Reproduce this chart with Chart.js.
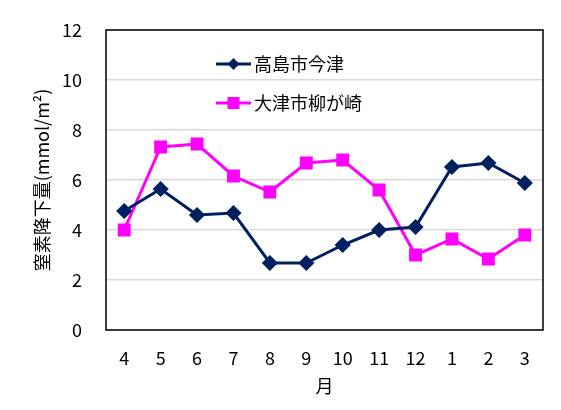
<!DOCTYPE html>
<html><head><meta charset="utf-8">
<script src="https://cdn.jsdelivr.net/npm/chart.js@4/dist/chart.umd.min.js"></script>
<style>html,body{margin:0;padding:0;background:#fff}#c{display:block}</style>
</head><body>
<canvas id="c" width="561" height="410"></canvas>
<script>
const months = ['4','5','6','7','8','9','10','11','12','1','2','3'];
const takashima = [4.76,5.64,4.6,4.68,2.68,2.68,3.4,4.0,4.12,6.52,6.68,5.88];
const otsu = [4.0,7.32,7.44,6.16,5.52,6.68,6.8,5.6,3.0,3.64,2.84,3.8];
const seriesNames = ['高島市今津','大津市柳が崎'];
const yTitle = '窒素降下量(mmol/m²)';
const xTitle = '月';

const FONT = "'Noto Sans CJK JP','Noto Sans',sans-serif";

const borderPlugin = {
  id:'border',
  afterDatasetsDraw(chart){
    const {ctx, chartArea:a} = chart;
    ctx.save();
    ctx.strokeStyle='#000'; ctx.lineWidth=1.5;
    ctx.strokeRect(a.left, a.top, a.right-a.left, a.bottom-a.top);
    ctx.restore();
  }
};
const legendPlugin = {
  id:'customLegend',
  afterDraw(chart){
    const ctx = chart.ctx;
    const items = [{y:64},{y:103}];
    chart.data.datasets.forEach((ds,i)=>{
      const y = items[i].y, x0=216, x1=251;
      ctx.save();
      ctx.strokeStyle=ds.borderColor; ctx.lineWidth=3;
      ctx.beginPath(); ctx.moveTo(x0,y); ctx.lineTo(x1,y); ctx.stroke();
      ctx.fillStyle=ds.borderColor;
      const cx=(x0+x1)/2;
      if(ds.pointStyle==='rectRot'){
        ctx.beginPath(); ctx.moveTo(cx,y-6); ctx.lineTo(cx+6,y); ctx.lineTo(cx,y+6); ctx.lineTo(cx-6,y); ctx.closePath(); ctx.fill();
      } else {
        ctx.fillRect(cx-6,y-6,12,12);
      }
      ctx.fillStyle='#000'; ctx.font='18px '+FONT; ctx.textBaseline='middle'; ctx.textAlign='left';
      ctx.fillText(ds.label, 254, y);
      ctx.restore();
    });
  }
};

new Chart(document.getElementById('c'), {
  type:'line',
  data:{
    labels: months,
    datasets:[
      {label:seriesNames[0], data:takashima, borderColor:'#002060', backgroundColor:'#002060', borderWidth:3, pointStyle:'rectRot', pointRadius:6, pointHoverRadius:6, tension:0},
      {label:seriesNames[1], data:otsu, borderColor:'#FF00FF', backgroundColor:'#FF00FF', borderWidth:3, pointStyle:'rect', pointRadius:7, pointHoverRadius:7, tension:0}
    ]
  },
  options:{
    responsive:false, animation:false,
    layout:{autoPadding:false, padding:{left:31,right:18,top:30,bottom:13}},
    plugins:{legend:{display:false}, tooltip:{enabled:false}},
    scales:{
      x:{
        offset:true,
        grid:{display:false, drawTicks:false},
        border:{display:false},
        ticks:{color:'#000', font:{family:FONT,size:18}, padding:17, maxRotation:0, autoSkip:false},
        title:{display:true, text:xTitle, color:'#000', font:{family:FONT,size:18}, padding:{top:0,bottom:0}},
        afterFit(s){ s.height = 67; s.paddingLeft = 0; s.paddingRight = 0; }
      },
      y:{
        min:0, max:12,
        ticks:{stepSize:2, color:'#000', font:{family:FONT,size:18}, padding:24},
        grid:{color:'#d9d9d9', lineWidth:1.5, drawTicks:false},
        border:{display:false},
        title:{display:true, text:yTitle, color:'#000', font:{family:FONT,size:18}, padding:{top:0,bottom:0}},
        afterFit(s){ s.width = 75; s.paddingTop = 0; s.paddingBottom = 0; }
      }
    }
  },
  plugins:[borderPlugin, legendPlugin]
});
</script>
</body></html>
